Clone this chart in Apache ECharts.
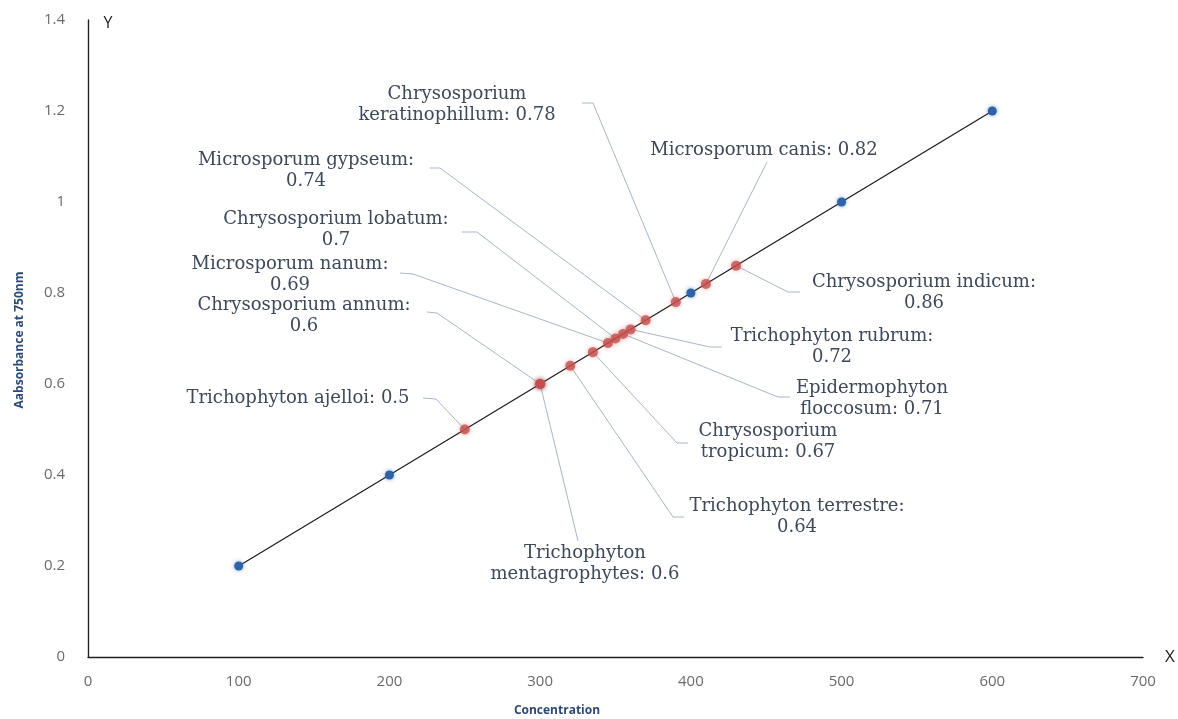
<!DOCTYPE html>
<html>
<head>
<meta charset="utf-8">
<script src="https://cdn.jsdelivr.net/npm/echarts@6/dist/echarts.min.js"></script>
<style>
  html, body { margin: 0; padding: 0; background: #fff; }
  #main { width: 1178px; height: 719px; }
</style>
</head>
<body>
<div id="main"></div>
<script>
// standard curve
var standardConc = [100, 200, 300, 400, 500, 600];
var standardAbs = [0.2, 0.4, 0.6, 0.8, 1.0, 1.2];

// isolates
var sampleNames = [
  'Trichophyton ajelloi', 'Trichophyton mentagrophytes', 'Chrysosporium annum',
  'Trichophyton terrestre', 'Chrysosporium tropicum', 'Microsporum nanum',
  'Chrysosporium lobatum', 'Epidermophyton floccosum', 'Trichophyton rubrum',
  'Microsporum gypseum', 'Chrysosporium keratinophillum', 'Microsporum canis',
  'Chrysosporium indicum'
];
var sampleAbs = [0.5, 0.6, 0.6, 0.64, 0.67, 0.69, 0.7, 0.71, 0.72, 0.74, 0.78, 0.82, 0.86];
var sampleConc = [250, 300, 300, 320, 335, 345, 350, 355, 360, 370, 390, 410, 430];

// label box centre (px), leader bends after the marker, where the text wraps
var labelLayout = [
  { cx: 298, cy: 398, brk: 'none',  lead: [[436, 399], [423, 398]] },
  { cx: 585, cy: 564, brk: 'name',  lead: [[578, 541]] },
  { cx: 304, cy: 316, brk: 'value', lead: [[437, 313], [427, 312]] },
  { cx: 797, cy: 517, brk: 'value', lead: [[673, 517], [684, 517]] },
  { cx: 768, cy: 442, brk: 'name',  lead: [[677, 443], [688, 443]] },
  { cx: 290, cy: 275, brk: 'value', lead: [[413, 274], [400, 273]] },
  { cx: 336, cy: 230, brk: 'value', lead: [[477, 232], [462, 232]] },
  { cx: 872, cy: 399, brk: 'name',  lead: [[778, 397], [790, 397]] },
  { cx: 832, cy: 347, brk: 'value', lead: [[710, 347], [722, 347]] },
  { cx: 306, cy: 171, brk: 'value', lead: [[440, 168], [430, 168]] },
  { cx: 457, cy: 105, brk: 'name',  lead: [[593, 103], [582, 103]] },
  { cx: 764, cy: 150, brk: 'none',  lead: [[767, 162]] },
  { cx: 924, cy: 293, brk: 'value', lead: [[788, 292], [800, 292]] }
];

function labelText(i) {
  var name = sampleNames[i];
  var val = String(sampleAbs[i]);
  var brk = labelLayout[i].brk;
  if (brk === 'value') return name + ':\n' + val;
  if (brk === 'name') {
    var sp = name.indexOf(' ');
    return name.slice(0, sp) + '\n' + name.slice(sp + 1) + ': ' + val;
  }
  return name + ': ' + val;
}

var chart = echarts.init(document.getElementById('main'));

var option = {
  backgroundColor: '#fff',
  animation: false,
  grid: { left: 88, right: 35, top: 20, bottom: 62, containLabel: false, outerBoundsMode: 'none' },
  xAxis: {
    type: 'value',
    min: 0, max: 700, interval: 100,
    name: 'X',
    nameLocation: 'end',
    nameGap: 22,
    nameTextStyle: { color: '#222', fontSize: 17, fontFamily: 'Open Sans' },
    axisLine: { show: true, lineStyle: { color: '#222', width: 1.4 } },
    axisTick: { show: false },
    splitLine: { show: false },
    axisLabel: { color: '#6a6a6a', fontSize: 15, fontFamily: 'Open Sans', margin: 17 }
  },
  yAxis: {
    type: 'value',
    min: 0, max: 1.4, interval: 0.2,
    axisLine: { show: true, lineStyle: { color: '#222', width: 1.4 } },
    axisTick: { show: false },
    splitLine: { show: false },
    axisLabel: { color: '#6a6a6a', fontSize: 15, fontFamily: 'Open Sans', margin: 23 }
  },
  graphic: [
    {
      type: 'text', x: 108, y: 23,
      style: { text: 'Y', font: '16px "Open Sans"', fill: '#222',
        align: 'center', verticalAlign: 'middle', textAlign: 'center', textVerticalAlign: 'middle' }
    },
    {
      type: 'text', x: 557, y: 711,
      style: { text: 'Concentration', font: 'bold 12px "Open Sans"', fill: '#2b4a74',
        align: 'center', verticalAlign: 'middle', textAlign: 'center', textVerticalAlign: 'middle' }
    },
    {
      type: 'text', x: 20, y: 340, rotation: Math.PI / 2,
      style: { text: 'Aabsorbance at 750nm', font: 'bold 12px "Open Sans"', fill: '#2b4a74',
        align: 'center', verticalAlign: 'middle', textAlign: 'center', textVerticalAlign: 'middle' }
    }
  ],
  series: [
    {
      // leader lines + data labels
      type: 'custom',
      coordinateSystem: 'cartesian2d',
      clip: false,
      silent: true,
      z: 1,
      data: sampleConc.map(function (c, i) { return [c, sampleAbs[i]]; }),
      renderItem: function (params, api) {
        var i = params.dataIndex;
        var p = api.coord([api.value(0), api.value(1)]);
        var lay = labelLayout[i];
        return {
          type: 'group',
          children: [
            {
              type: 'polyline',
              shape: { points: [p].concat(lay.lead) },
              style: { stroke: '#a8b6c8', lineWidth: 1, fill: null }
            },
            {
              type: 'text',
              x: lay.cx, y: lay.cy,
              style: {
                text: labelText(i),
                font: '18px "DejaVu Serif"',
                fill: '#3d4859',
                lineHeight: 21,
                align: 'center', verticalAlign: 'middle',
                textAlign: 'center', textVerticalAlign: 'middle'
              }
            }
          ]
        };
      }
    },
    {
      name: 'Standard',
      type: 'line',
      z: 2,
      data: standardConc.map(function (c, i) { return [c, standardAbs[i]]; }),
      symbol: 'circle',
      symbolSize: 9,
      lineStyle: { color: '#1e1e1e', width: 1.3 },
      itemStyle: { color: '#2f62a6', shadowBlur: 4, shadowColor: 'rgba(47,98,166,0.6)' }
    },
    {
      name: 'Isolates',
      type: 'scatter',
      z: 3,
      data: sampleConc.map(function (c, i) { return [c, sampleAbs[i]]; }),
      symbol: 'circle',
      symbolSize: 10,
      itemStyle: { color: '#c4504d', shadowBlur: 5, shadowColor: 'rgba(196,80,77,0.6)' }
    }
  ]
};

chart.setOption(option);
</script>
</body>
</html>
